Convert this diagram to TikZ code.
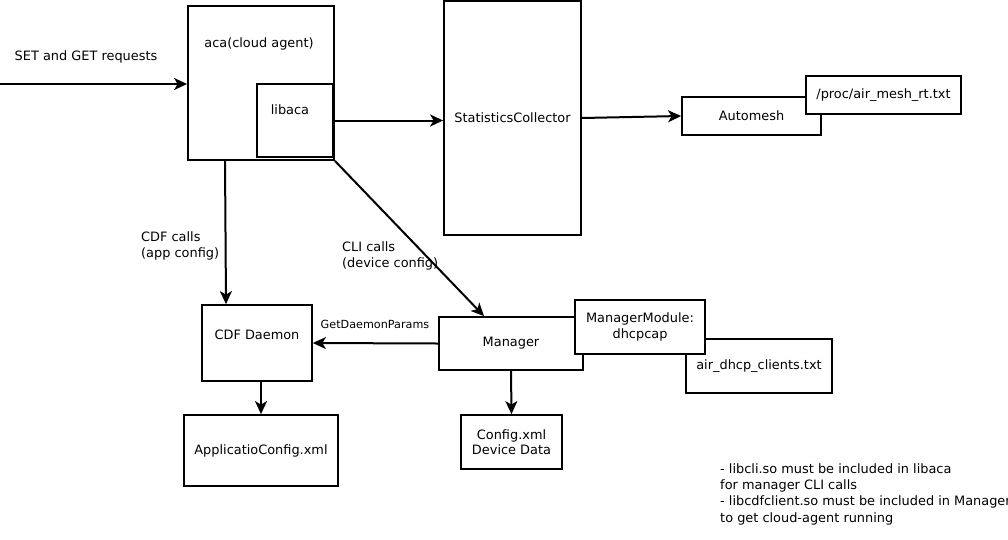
\documentclass[tikz,border=0pt]{standalone}
\usepackage{fontspec}
\setmainfont{DejaVu Sans}
\usetikzlibrary{arrows.meta}
\begin{document}
\begin{tikzpicture}[x=1pt,y=-1pt,
  box/.style={draw, line width=1.8pt, fill=white, inner sep=0pt, align=center,
    font=\fontsize{12.9}{16.5}\selectfont},
  txt/.style={inner sep=0pt, align=left, font=\fontsize{12.9}{16.4}\selectfont},
  small/.style={inner sep=0pt, font=\fontsize{11.2}{13}\selectfont},
  conn/.style={line width=2pt, -{Stealth[length=13pt,width=12pt,inset=3.5pt]}}]
\useasboundingbox (0,0) rectangle (1008,539);
\clip (0,0) rectangle (1008,539);

% cloud agent with its library
\node[box, minimum width=146, minimum height=154] (aca) at (261,83) {};
\node[txt] (acalabel) at (259,44) {aca(cloud agent)};
\node[box, minimum width=76, minimum height=73] (libaca) at (295,120.5) {};
\node[txt] (libacalabel) at (290,110) {libaca};

% statistics path
\node[box, minimum width=137, minimum height=234] (sc) at (512.5,118) {StatisticsCollector};
\node[box, minimum width=139, minimum height=38] (automesh) at (751.5,116) {Automesh};
\node[box, minimum width=155, minimum height=38] (proc) at (883.5,95) {/proc/air\_mesh\_rt.txt};

% configuration daemons
\node[box, minimum width=110, minimum height=76] (cdf) at (257,343) {};
\node[txt] (cdflabel) at (257,335) {CDF Daemon};
\node[box, minimum width=154, minimum height=71] (appcfg) at (261,450.5) {ApplicatioConfig.xml};
\node[box, minimum width=144, minimum height=53] (manager) at (511,343.5) {Manager};
\node[box, minimum width=146, minimum height=54] (air) at (759,366) {air\_dhcp\_clients.txt};
\node[box, minimum width=130, minimum height=54] (mm) at (640,327) {ManagerModule:\\dhcpcap};
\node[box, minimum width=101, minimum height=54] (cfgxml) at (511.5,442) {Config.xml\\[-1pt]Device Data};

% connectors
\coordinate (in) at (0,84);
\draw[conn] (in) -- (in -| aca.west);
\draw[conn] (libaca.east) -- (sc.west |- libaca.east);
\draw[conn] (sc.east) -- (automesh.west);
\draw[conn] ([xshift=-36]aca.south) -- ([xshift=-31]cdf.north);
\draw[conn] (aca.south east) -- ([xshift=-27]manager.north);
\draw[conn] (manager.west) -- (cdf.east);
\draw[conn] ([xshift=4]cdf.south) -- (appcfg.north);
\draw[conn] (manager.south) -- (cfgxml.north);

% labels
\node[txt] (req) at (86,57) {SET and GET requests};
\node[txt, anchor=north west] (cdfcalls) at (141,231) {CDF calls\\(app config)};
\node[txt, anchor=north west] (clicalls) at (342,241) {CLI calls\\(device config)};
\node[small] (gdp) at (375,324) {GetDaemonParams};
\node[txt, anchor=north west] (notes) at (720,463) {- libcli.so must be included in libaca\\for manager CLI calls\\- libcdfclient.so must be included in Manager\\to get cloud-agent running};
\end{tikzpicture}
\end{document}
